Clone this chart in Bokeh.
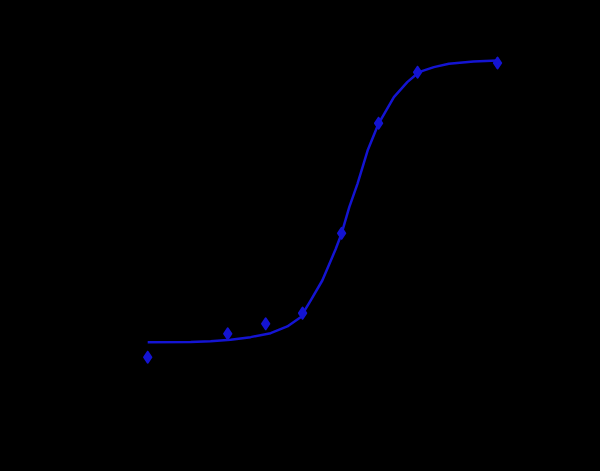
from bokeh.plotting import figure
from bokeh.models import Range1d
from bokeh.embed import file_html
from bokeh.resources import INLINE

# Measured standards (concentration, response)
conc = [0.1, 0.427, 0.85, 1.66, 3.37, 6.59, 13.37, 57.0]
resp = [0.361, 0.556, 0.639, 0.728, 1.394, 2.311, 2.736, 2.8125]

# Fitted curve
fit_x = [0.1, 0.218, 0.313, 0.450, 0.647, 0.930, 1.259, 1.602, 1.92, 2.374,
         2.677, 3.022, 3.37, 3.873, 4.50, 5.40, 6.59, 8.70, 11.09, 13.68,
         17.97, 23.58, 36.9, 57.0]
fit_y = [0.486, 0.4875, 0.494, 0.506, 0.528, 0.561, 0.617, 0.694, 0.833, 1.0,
         1.13, 1.26, 1.392, 1.611, 1.808, 2.083, 2.308, 2.528, 2.653, 2.736,
         2.778, 2.806, 2.825, 2.833]

BLUE = "#1414d2"

p = figure(width=600, height=471, x_axis_type="log",
           x_range=Range1d(0.05, 100), y_range=Range1d(0, 3),
           output_backend="svg", toolbar_location=None,
           background_fill_color="black", border_fill_color="black",
           min_border_left=109, min_border_right=72,
           min_border_top=40, min_border_bottom=71)
p.styles = {"background-color": "black"}
p.outline_line_color = None
p.grid.visible = False
for ax in (p.xaxis, p.yaxis):
    ax.axis_line_color = "black"
    ax.major_tick_line_color = "black"
    ax.minor_tick_line_color = "black"
    ax.major_label_text_color = "black"

p.line(fit_x, fit_y, line_color=BLUE, line_width=2.5, line_join="round")
p.scatter(conc, resp, marker="diamond", size=11, fill_color=BLUE,
          line_color=BLUE, line_width=2, line_join="round")

html = file_html(p, INLINE)
html = html.replace("<body>", '<body style="background-color:black">', 1)
open("out.html", "w").write(html)
